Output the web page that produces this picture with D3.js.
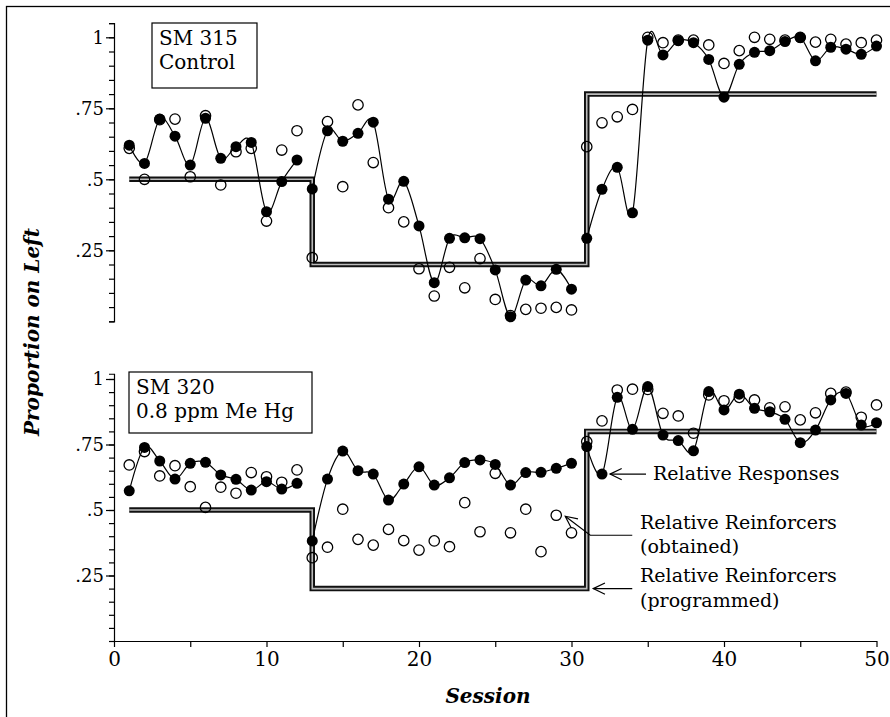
<!DOCTYPE html>
<html>
<head>
<meta charset="utf-8">
<script src="https://cdn.jsdelivr.net/npm/d3@7"></script>
<style>
    body { margin: 0; background: #fff; }
    svg text { font-family: "DejaVu Serif", serif; fill: #000; }
</style>
</head>
<body>
<div id="graph-container"></div>
<script>
// sessions 1..50
var sessions = [1,2,3,4,5,6,7,8,9,10,11,12,13,14,15,16,17,18,19,20,
    21,22,23,24,25,26,27,28,29,30,31,32,33,34,35,36,37,38,39,40,
    41,42,43,44,45,46,47,48,49,50];

// SM 315 Control
var sm315Responses = [0.62,0.556,0.712,0.652,0.55,0.715,0.574,0.615,0.63,0.386,
    0.492,0.568,0.466,0.671,0.634,0.662,0.701,0.43,0.493,0.336,
    0.136,0.292,0.294,0.291,0.181,0.016,0.145,0.125,0.183,0.113,
    0.292,0.465,0.542,0.382,0.99,0.938,0.988,0.981,0.922,0.789,
    0.905,0.947,0.953,0.985,0.999,0.917,0.965,0.958,0.94,0.969];
var sm315Obtained = [0.609,0.5,0.71,0.712,0.509,0.724,0.48,0.597,0.609,0.353,
    0.603,0.671,0.224,0.703,0.474,0.762,0.559,0.4,0.35,0.185,
    0.089,0.19,0.118,0.221,0.077,0.02,0.042,0.046,0.049,0.04,
    0.615,0.699,0.72,0.746,1.0,0.981,0.99,0.99,0.973,0.908,
    0.953,1.0,0.993,0.99,1.0,0.983,0.993,0.976,0.981,0.99];

// SM 320 0.8 ppm Me Hg
var sm320Responses = [0.573,0.739,0.687,0.618,0.678,0.682,0.634,0.617,0.576,0.608,
    0.58,0.602,0.382,0.618,0.725,0.65,0.637,0.538,0.599,0.665,
    0.595,0.623,0.681,0.691,0.674,0.595,0.643,0.644,0.659,0.678,
    0.742,0.637,0.93,0.808,0.971,0.786,0.765,0.726,0.952,0.882,
    0.942,0.888,0.875,0.846,0.757,0.805,0.92,0.945,0.824,0.833];
var sm320Obtained = [0.672,0.723,0.63,0.669,0.589,0.51,0.587,0.564,0.643,0.627,
    0.606,0.653,0.318,0.358,0.503,0.388,0.366,0.426,0.383,0.347,
    0.382,0.36,0.528,0.417,0.64,0.413,0.503,0.341,0.48,0.413,
    0.761,0.84,0.958,0.961,0.96,0.869,0.859,0.793,0.939,0.917,
    0.93,0.92,0.89,0.894,0.844,0.871,0.945,0.95,0.854,0.901];

// programmed schedule (same in both)
var phaseStart = [1, 13, 31];
var phaseEnd = [12, 30, 50];
var programmed = [0.5, 0.2, 0.8];

var yTickLabels = [".25", ".5", ".75", "1"];
var yMajor = [0.25, 0.5, 0.75, 1];
var xMajor = [0, 10, 20, 30, 40, 50];
var xMinor = [5, 15, 25, 35, 45];

var width = 890, height = 717;
var svg = d3.select("#graph-container").append("svg")
    .attr("width", width).attr("height", height);

svg.append("rect")
    .attr("x", 6.5).attr("y", 6.5)
    .attr("width", 900).attr("height", 720)
    .attr("fill", "none").attr("stroke", "#000").attr("stroke-width", 1.3);

var x = d3.scaleLinear().domain([0, 50]).range([114, 876.5]);

function drawPanel(cfg) {
    var y = d3.scaleLinear().domain([0, cfg.top]).range([cfg.zero, cfg.zero - cfg.top * cfg.unit]);
    var g = svg.append("g");

    // y axis: minor ticks every .05
    var minor = d3.range(0, cfg.top + 1e-9, 0.05).map(v => +v.toFixed(2));
    g.append("g")
        .attr("transform", "translate(" + x(0) + ",0)")
        .call(d3.axisLeft(y).tickValues(minor).tickSize(5).tickSizeOuter(5).tickFormat(""))
        .call(a => a.selectAll("line,path").attr("stroke", "#000").attr("stroke-width", 1.2));
    g.append("g")
        .attr("transform", "translate(" + x(0) + ",0)")
        .call(d3.axisLeft(y).tickValues(yMajor).tickSize(8).tickPadding(2)
            .tickFormat((d, i) => yTickLabels[i]))
        .call(a => a.select(".domain").remove())
        .call(a => a.selectAll("line").attr("stroke", "#000").attr("stroke-width", 1.2))
        .call(a => a.selectAll("text").style("font-size", "18px").attr("fill", "#000"));

    // programmed step line (double line)
    var stepPts = [];
    programmed.forEach(function (p, i) {
        var xe = i === programmed.length - 1 ? phaseEnd[i] : phaseStart[i + 1];
        stepPts.push([phaseStart[i], p]);
        stepPts.push([xe, p]);
    });
    var stepLine = d3.line().x(d => x(d[0])).y(d => y(d[1]));
    g.append("path").attr("d", stepLine(stepPts))
        .attr("fill", "none").attr("stroke", "#111").attr("stroke-width", 5.5);
    g.append("path").attr("d", stepLine(stepPts))
        .attr("fill", "none").attr("stroke", "#bbb").attr("stroke-width", 1.6);

    // responses line, broken at phase changes
    var line = d3.line().curve(d3.curveCardinal)
        .x(d => x(d[0])).y(d => y(d[1]));
    phaseStart.forEach(function (s, i) {
        var seg = [];
        sessions.forEach(function (ss, j) {
            if (ss >= s && ss <= phaseEnd[i]) seg.push([ss, cfg.responses[j]]);
        });
        g.append("path").attr("d", line(seg))
            .attr("fill", "none").attr("stroke", "#000").attr("stroke-width", 1.2);
    });

    // obtained reinforcers (open)
    g.selectAll(".open").data(sessions).join("circle")
        .attr("cx", d => x(d)).attr("cy", (d, i) => y(cfg.obtained[i]))
        .attr("r", 5.2).attr("fill", "none")
        .attr("stroke", "#000").attr("stroke-width", 1.3);
    // relative responses (filled)
    g.selectAll(".filled").data(sessions).join("circle")
        .attr("cx", d => x(d)).attr("cy", (d, i) => y(cfg.responses[i]))
        .attr("r", 5.5).attr("fill", "#000");

    // label box
    g.append("rect")
        .attr("x", cfg.box[0]).attr("y", cfg.box[1])
        .attr("width", cfg.box[2]).attr("height", cfg.box[3])
        .attr("fill", "#fff").attr("stroke", "#000").attr("stroke-width", 1.2);
    cfg.label.forEach(function (t, i) {
        g.append("text").attr("x", cfg.box[0] + 7).attr("y", cfg.box[1] + 22 + i * 23.5)
            .style("font-size", "20px").text(t);
    });
    return {g: g, y: y};
}

var top = drawPanel({
    zero: 321.3, unit: 284, top: 1.05,
    responses: sm315Responses, obtained: sm315Obtained,
    box: [152, 23, 105, 65], label: ["SM 315", "Control"]
});

var bottom = drawPanel({
    zero: 641, unit: 262, top: 1.02,
    responses: sm320Responses, obtained: sm320Obtained,
    box: [129, 372, 183, 61], label: ["SM 320", "0.8 ppm Me Hg"]
});

// x axis on the bottom panel
svg.append("g")
    .attr("transform", "translate(0,641)")
    .call(d3.axisBottom(x).tickValues(xMinor).tickSize(6).tickSizeOuter(0).tickFormat(""))
    .call(a => a.selectAll("line,path").attr("stroke", "#000").attr("stroke-width", 1.2));
svg.append("g")
    .attr("transform", "translate(0,641)")
    .call(d3.axisBottom(x).tickValues(xMajor).tickSize(6).tickPadding(5))
    .call(a => a.select(".domain").remove())
    .call(a => a.selectAll("line").attr("stroke", "#000").attr("stroke-width", 1.2))
    .call(a => a.selectAll("text").style("font-size", "20px").attr("fill", "#000"));

// axis titles
svg.append("text")
    .attr("transform", "translate(39,332) rotate(-90)")
    .attr("text-anchor", "middle")
    .style("font-size", "20px").style("font-weight", "bold").style("font-style", "italic")
    .text("Proportion on Left");
svg.append("text")
    .attr("x", 488).attr("y", 703)
    .attr("text-anchor", "middle")
    .style("font-size", "20px").style("font-weight", "bold").style("font-style", "italic")
    .text("Session");

// annotations with arrows
function arrow(pts) {
    var tip = pts[pts.length - 1], prev = pts[pts.length - 2];
    var ang = Math.atan2(prev[1] - tip[1], prev[0] - tip[0]);
    var len = 13, spread = 0.45;
    var a1 = [tip[0] + len * Math.cos(ang + spread), tip[1] + len * Math.sin(ang + spread)];
    var a2 = [tip[0] + len * Math.cos(ang - spread), tip[1] + len * Math.sin(ang - spread)];
    svg.append("path").attr("d", d3.line()(pts))
        .attr("fill", "none").attr("stroke", "#000").attr("stroke-width", 1.2);
    svg.append("path").attr("d", d3.line()([a1, tip, a2]))
        .attr("fill", "none").attr("stroke", "#000").attr("stroke-width", 1.2);
}
var by = bottom.y;
var respTip = [x(32) + 8, by(sm320Responses[31])];
arrow([[respTip[0] + 36, respTip[1]], respTip]);
var obtTip = [x(29) + 9, by(sm320Obtained[28]) + 1];
arrow([[obtTip[0] + 67, obtTip[1] + 19], [obtTip[0] + 25, obtTip[1] + 19], obtTip]);
var progTip = [x(31) + 6.5, by(programmed[1])];
arrow([[progTip[0] + 39, progTip[1]], progTip]);

var notes = [
    ["Relative Responses", respTip[0] + 43, respTip[1] + 6],
    ["Relative Reinforcers", 640, 529],
    ["(obtained)", 640, 553],
    ["Relative Reinforcers", 640, 582],
    ["(programmed)", 640, 607]
];
notes.forEach(function (n) {
    svg.append("text").attr("x", n[1]).attr("y", n[2])
        .style("font-size", "19px").text(n[0]);
});
</script>
</body>
</html>
